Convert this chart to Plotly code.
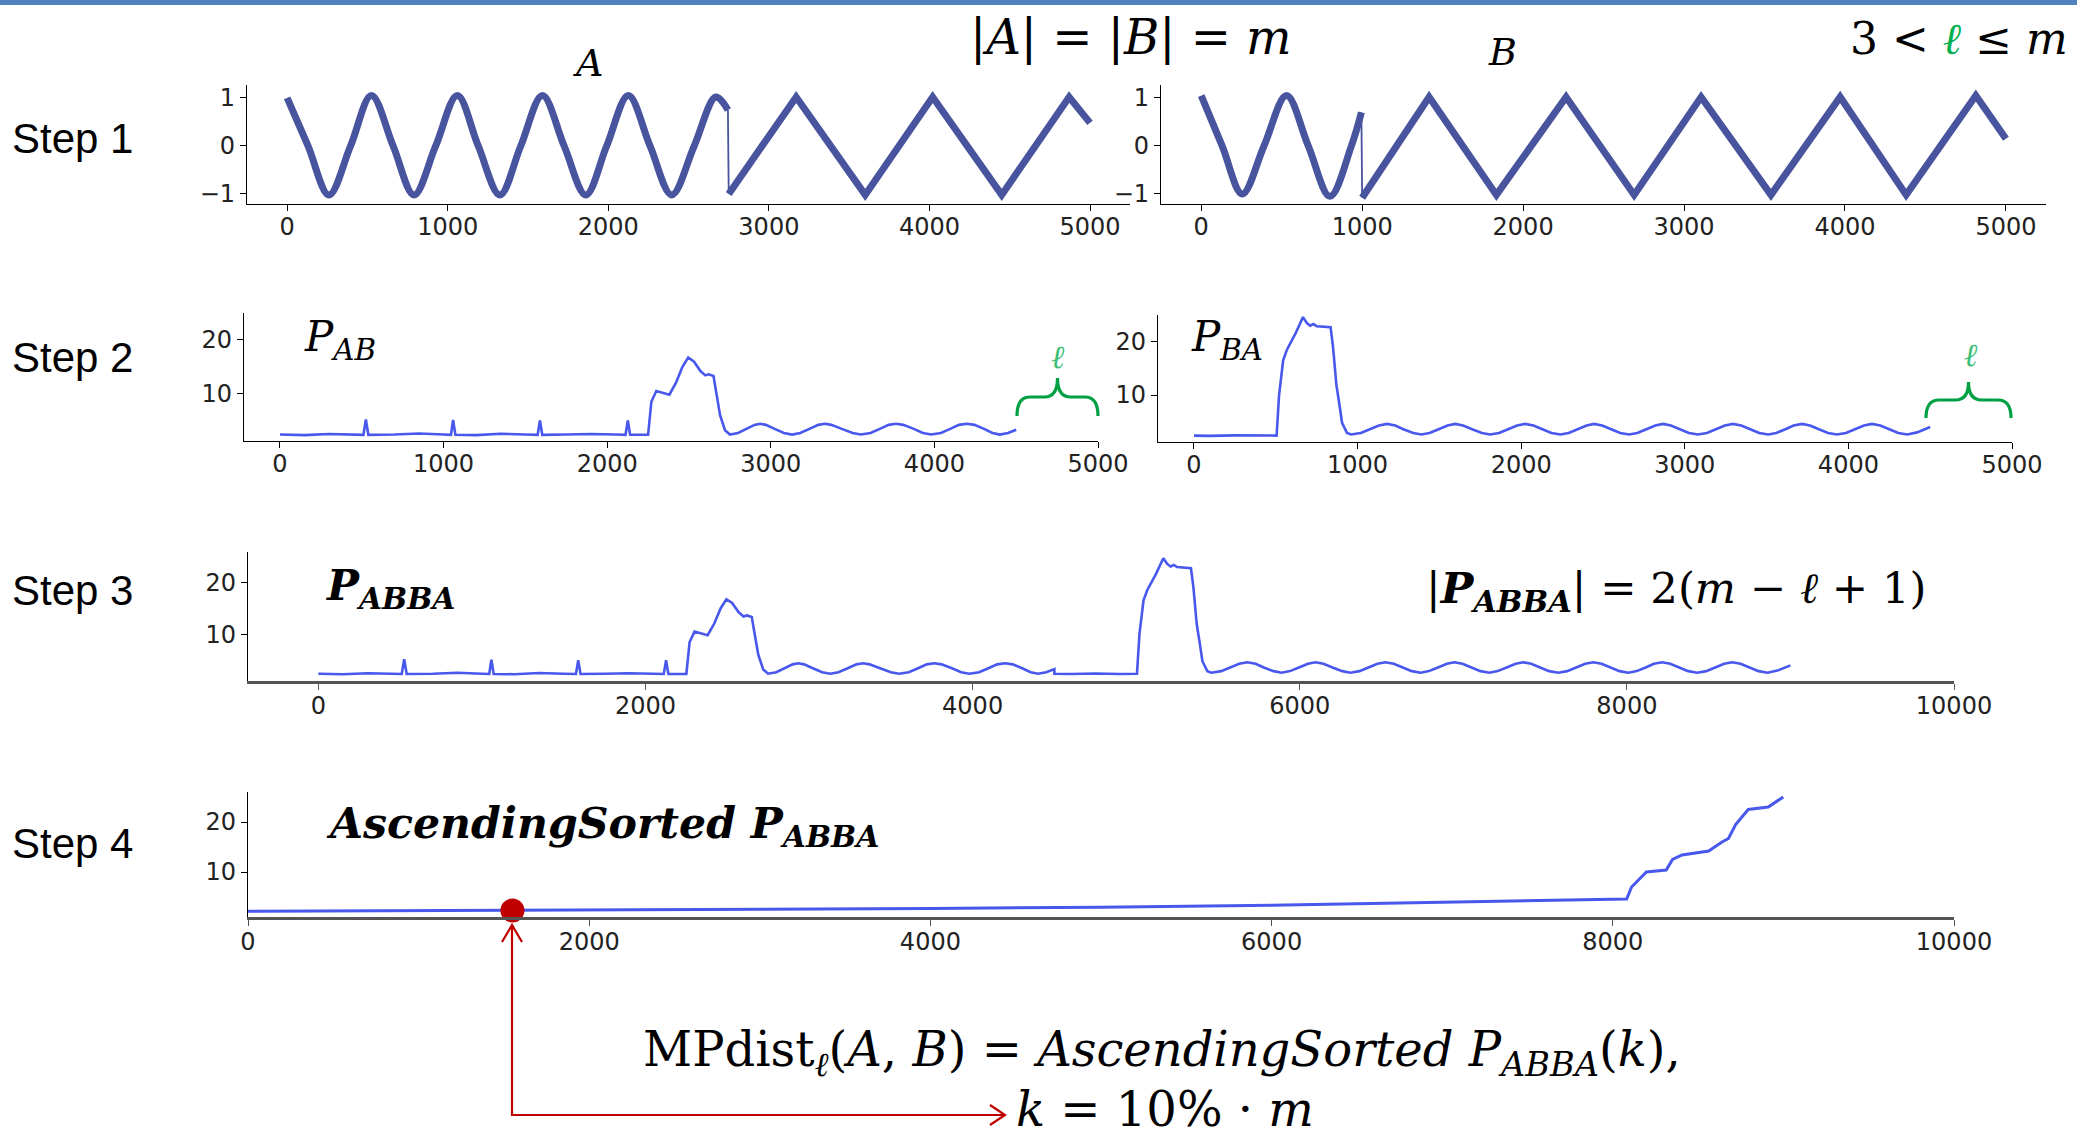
import plotly.graph_objects as go

W, H = 2077, 1139

# ---------------- data ----------------
# Step 1: time series A and B (sine part, then triangle part)
a_wave_x = [0, 130, 260, 395, 525, 660, 790, 925, 1060, 1190, 1325, 1455, 1590, 1725, 1860, 1990, 2125, 2260, 2395, 2535, 2670, 2745]
a_wave_y = [1.0, 0.0, -1.02, 0.0, 1.05, 0.0, -1.02, 0.0, 1.05, 0.0, -1.02, 0.0, 1.05, 0.0, -1.02, 0.0, 1.05, 0.0, -1.02, 0.0, 1.02, 0.75]
a_tri_x = [2750, 3170, 3600, 4020, 4450, 4870, 5000]
a_tri_y = [-1.0, 1.02, -1.02, 1.02, -1.02, 1.02, 0.48]

b_wave_x = [0, 130, 255, 390, 530, 665, 800, 933, 995]
b_wave_y = [1.05, 0.0, -1.0, 0.0, 1.05, 0.0, -1.05, 0.0, 0.7]
b_tri_x = [1000, 1416, 1834, 2267, 2690, 3106, 3540, 3970, 4380, 4813, 5000]
b_tri_y = [-1.08, 1.02, -1.02, 1.02, -1.02, 1.02, -1.02, 1.02, -1.02, 1.05, 0.15]

# Step 2: matrix profiles P_AB and P_BA
pab_x = [0, 150, 300, 450, 510, 525, 540, 700, 850, 1000, 1045, 1058, 1072, 1200, 1350, 1500, 1575, 1589, 1603,
         1750, 1900, 2050, 2112, 2126, 2140, 2250, 2270, 2300, 2340, 2380, 2420, 2460, 2495, 2530, 2570, 2600,
         2620, 2650, 2665, 2690, 2720, 2750, 2800, 2850, 2900, 2934, 2970, 3020, 3080, 3130, 3180, 3240, 3290,
         3331, 3370, 3430, 3500, 3550, 3610, 3670, 3720, 3765, 3810, 3870, 3930, 3980, 4040, 4100, 4150, 4199,
         4245, 4300, 4355, 4400, 4450, 4500]
pab_y = [2.4, 2.3, 2.5, 2.35, 2.35, 5.2, 2.35, 2.4, 2.6, 2.4, 2.35, 5.1, 2.35, 2.3, 2.55, 2.4, 2.35, 5.0, 2.35,
         2.4, 2.5, 2.4, 2.35, 5.0, 2.35, 2.35, 8.5, 10.5, 10.2, 9.8, 12.0, 15.0, 16.7, 16.0, 14.2, 13.4,
         13.6, 13.3, 10.5, 6.0, 3.2, 2.4, 2.7, 3.5, 4.2, 4.4, 4.2, 3.5, 2.7, 2.4, 2.7, 3.5, 4.2,
         4.4, 4.2, 3.5, 2.7, 2.4, 2.7, 3.5, 4.2, 4.4, 4.2, 3.5, 2.7, 2.4, 2.7, 3.5, 4.2, 4.4,
         4.2, 3.5, 2.7, 2.4, 2.7, 3.3]

pba_x = [0, 100, 250, 400, 505, 520, 545, 568, 620, 666, 690, 710, 730, 750, 800, 835, 850, 870, 890, 905, 935,
         960, 1020, 1080, 1130, 1180, 1230, 1280, 1340, 1390, 1440, 1495, 1550, 1596, 1645, 1700, 1760, 1810,
         1865, 1920, 1975, 2024, 2075, 2130, 2185, 2240, 2290, 2345, 2400, 2445, 2495, 2550, 2605, 2660,
         2710, 2765, 2820, 2867, 2915, 2970, 3025, 3080, 3135, 3190, 3245, 3295, 3345, 3400, 3455, 3510,
         3560, 3615, 3665, 3716, 3765, 3820, 3875, 3930, 3985, 4040, 4095, 4144, 4195, 4250, 4305, 4360,
         4420, 4500]
pba_y = [2.4, 2.35, 2.45, 2.35, 2.4, 10.0, 16.5, 18.5, 21.5, 24.6, 23.5, 23.0, 23.3, 22.9, 22.8, 22.7, 19.0, 12.0, 8.0, 4.8, 2.9,
         2.6, 2.9, 3.6, 4.3, 4.6, 4.3, 3.6, 2.9, 2.6, 2.9, 3.6, 4.3, 4.6, 4.3, 3.6, 2.9, 2.6,
         2.9, 3.6, 4.3, 4.6, 4.3, 3.6, 2.9, 2.6, 2.9, 3.6, 4.3, 4.6, 4.3, 3.6, 2.9, 2.6,
         2.9, 3.6, 4.3, 4.6, 4.3, 3.6, 2.9, 2.6, 2.9, 3.6, 4.3, 4.6, 4.3, 3.6, 2.9, 2.6,
         2.9, 3.6, 4.3, 4.6, 4.3, 3.6, 2.9, 2.6, 2.9, 3.6, 4.3, 4.6, 4.3, 3.6, 2.9, 2.6,
         3.0, 4.0]

# Step 3: P_ABBA = P_AB followed by P_BA
ab_len = 4500
pabba_x = pab_x + [x + ab_len for x in pba_x]
pabba_y = pab_y + pba_y

# Step 4: ascending sorted P_ABBA
sorted_x = [0, 1000, 2000, 3000, 4000, 5000, 6000, 7000, 7500, 8000, 8081, 8110, 8197, 8313, 8350, 8406,
            8562, 8640, 8678, 8720, 8794, 8911, 8999]
sorted_y = [2.15, 2.25, 2.35, 2.5, 2.7, 2.95, 3.35, 3.95, 4.25, 4.45, 4.6, 7.0, 10.0, 10.4, 12.5, 13.4,
            14.2, 16.0, 16.7, 19.5, 22.5, 23.0, 25.0]
k_index = 1550
k_value = 2.3

ticks_5k = [0, 1000, 2000, 3000, 4000, 5000]
ticks_10k = [0, 2000, 4000, 6000, 8000, 10000]
ticks_10k_text = ["0", "2000", "4000", "6000", "8000", "10000"]
ticks_pm1 = [-1, 0, 1]
ticks_pm1_text = ["\u22121", "0", "1"]
ticks_mp = [10, 20]

# ---------------- styling ----------------
SERIF = "DejaVu Serif"
SANS = "Liberation Sans, Arial"
TICKFONT = dict(family="DejaVu Sans", size=24, color="#222222")
C1 = "#48549E"
C2 = "rgb(72,88,236)"
RED = "#C00000"
GREEN = "#00A043"


def dom_x(a, b):
    return [a / W, b / W]


def dom_y(top, bottom):
    return [1 - bottom / H, 1 - top / H]


def px(x, y):
    return x / W, 1 - y / H


fig = go.Figure()

# Step 1
fig.add_trace(go.Scatter(x=a_wave_x, y=a_wave_y, mode="lines", line=dict(color=C1, width=7, shape="spline"),
                         xaxis="x", yaxis="y"))
fig.add_trace(go.Scatter(x=[a_wave_x[-1], a_tri_x[0]], y=[a_wave_y[-1], a_tri_y[0]], mode="lines",
                         line=dict(color=C1, width=1.8), xaxis="x", yaxis="y"))
fig.add_trace(go.Scatter(x=a_tri_x, y=a_tri_y, mode="lines", line=dict(color=C1, width=7),
                         xaxis="x", yaxis="y"))
fig.add_trace(go.Scatter(x=b_wave_x, y=b_wave_y, mode="lines", line=dict(color=C1, width=7, shape="spline"),
                         xaxis="x2", yaxis="y2"))
fig.add_trace(go.Scatter(x=[b_wave_x[-1], b_tri_x[0]], y=[b_wave_y[-1], b_tri_y[0]], mode="lines",
                         line=dict(color=C1, width=1.8), xaxis="x2", yaxis="y2"))
fig.add_trace(go.Scatter(x=b_tri_x, y=b_tri_y, mode="lines", line=dict(color=C1, width=7),
                         xaxis="x2", yaxis="y2"))
# Step 2
fig.add_trace(go.Scatter(x=pab_x, y=pab_y, mode="lines", line=dict(color=C2, width=2.6), xaxis="x3", yaxis="y3"))
fig.add_trace(go.Scatter(x=pba_x, y=pba_y, mode="lines", line=dict(color=C2, width=2.6), xaxis="x4", yaxis="y4"))
# Step 3
fig.add_trace(go.Scatter(x=pabba_x, y=pabba_y, mode="lines", line=dict(color=C2, width=2.6), xaxis="x5", yaxis="y5"))
# Step 4
fig.add_trace(go.Scatter(x=sorted_x, y=sorted_y, mode="lines", line=dict(color=C2, width=3), xaxis="x6", yaxis="y6"))
fig.add_trace(go.Scatter(x=[k_index], y=[k_value], mode="markers", marker=dict(color=RED, size=24),
                         cliponaxis=False, xaxis="x6", yaxis="y6"))


def xax(domain, rng, tickvals, anchor, linecolor="black", lw=1.3, ticktext=None):
    d = dict(domain=domain, range=rng, tickvals=tickvals, anchor=anchor, showline=True, linecolor=linecolor,
             linewidth=lw, ticks="outside", ticklen=6, tickwidth=1.2, tickcolor=linecolor, showgrid=False,
             zeroline=False, tickfont=TICKFONT, fixedrange=True, automargin=False, ticklabelstandoff=-5)
    if ticktext is not None:
        d["ticktext"] = ticktext
    return d


def yax(domain, rng, tickvals, anchor, ticktext=None):
    d = dict(domain=domain, range=rng, tickvals=tickvals, anchor=anchor, showline=True, linecolor="black",
             linewidth=1.3, ticks="outside", ticklen=6, tickwidth=1.2, tickcolor="black", showgrid=False,
             zeroline=False, tickfont=TICKFONT, fixedrange=True, automargin=False)
    if ticktext is not None:
        d["ticktext"] = ticktext
    return d


layout = dict(
    width=W, height=H, autosize=False, showlegend=False,
    margin=dict(l=0, r=0, t=0, b=0, pad=0, autoexpand=False),
    paper_bgcolor="white", plot_bgcolor="white",
    xaxis=xax(dom_x(247, 1130), [-250, 5249], ticks_5k, "y"),
    yaxis=yax(dom_y(85, 204), [-1.21, 1.27], ticks_pm1, "x", ticks_pm1_text),
    xaxis2=xax(dom_x(1161, 2046), [-250, 5249], ticks_5k, "y2"),
    yaxis2=yax(dom_y(85, 204), [-1.21, 1.27], ticks_pm1, "x2", ticks_pm1_text),
    xaxis3=xax(dom_x(244, 1098), [-220, 5000], ticks_5k, "y3"),
    yaxis3=yax(dom_y(313, 441), [1.2, 25.0], ticks_mp, "x3"),
    xaxis4=xax(dom_x(1158, 2012), [-220, 5000], ticks_5k, "y4"),
    yaxis4=yax(dom_y(315, 442), [1.2, 25.0], ticks_mp, "x4"),
    xaxis5=xax(dom_x(248, 1954), [-430, 10000], ticks_10k, "y5", "#555555", 2.6, ticks_10k_text),
    yaxis5=yax(dom_y(552, 681), [1.0, 25.8], ticks_mp, "x5"),
    xaxis6=xax(dom_x(248, 1954), [0, 10000], ticks_10k, "y6", "#555555", 2.6, ticks_10k_text),
    yaxis6=yax(dom_y(792, 917), [1.0, 26.0], ticks_mp, "x6"),
)
fig.update_layout(**layout)


def ann(text, x, y, size, xanchor="left", yanchor="middle", color="black", family=SERIF):
    xp, yp = px(x, y)
    return dict(text=text, x=xp, y=yp, xref="paper", yref="paper", showarrow=False, xanchor=xanchor,
                yanchor=yanchor, font=dict(size=size, color=color, family=family))


ell = "<i>\u2113</i>"
anns = [
    ann("|<i>A</i>| = |<i>B</i>| = <i>m</i>", 1131, 37, 48, xanchor="center"),
    ann("3 &lt; <span style='color:#00B050'>" + ell + "</span> \u2264 <i>m</i>", 2070, 38, 44, xanchor="right"),
    ann("<i>A</i>", 588, 63, 38, xanchor="center"),
    ann("<i>B</i>", 1502, 52, 38, xanchor="center"),
    ann("<i>P</i><sub><i>AB</i></sub>", 302, 340, 42),
    ann("<i>P</i><sub><i>BA</i></sub>", 1189, 340, 42),
    ann(ell, 1058, 357, 32, xanchor="center", color="#3DBE76"),
    ann(ell, 1971, 355, 32, xanchor="center", color="#3DBE76"),
    ann("<b><i>P</i></b><sub><b><i>ABBA</i></b></sub>", 324, 588, 42.5),
    ann("|<b><i>P</i></b><sub><b><i>ABBA</i></b></sub>| = 2(<i>m</i> \u2212 " + ell + " + 1)", 1424, 590, 43.4),
    ann("<b><i>AscendingSorted P</i></b><sub><b><i>ABBA</i></b></sub>", 324, 826, 42.6),
    ann("MPdist<sub>" + ell + "</sub>(<i>A</i>, <i>B</i>) = <i>AscendingSorted P</i><sub><i>ABBA</i></sub>(<i>k</i>),",
        641, 1052, 48),
    ann("<i>k</i> = 10% \u00b7 <i>m</i>", 1014, 1139, 48, yanchor="bottom"),
]
for label, yc in [("Step 1", 138), ("Step 2", 358), ("Step 3", 590), ("Step 4", 843)]:
    anns.append(ann(label, 10, yc, 42, family=SANS))
fig.update_layout(annotations=anns)


def brace_path(x0, x1, yend, yarm, ytip, r=13):
    mid = (x0 + x1) / 2
    pts = [
        ("M", [(x0, yend)]),
        ("Q", [(x0, yarm), (x0 + r, yarm)]),
        ("L", [(mid - r, yarm)]),
        ("Q", [(mid, yarm), (mid, ytip)]),
        ("Q", [(mid, yarm), (mid + r, yarm)]),
        ("L", [(x1 - r, yarm)]),
        ("Q", [(x1, yarm), (x1, yend)]),
    ]
    s = ""
    for cmd, ps in pts:
        s += cmd + " " + " ".join("%.6f,%.6f" % px(a, b) for a, b in ps) + " "
    return s.strip()


def poly_path(points):
    return "M " + " L ".join("%.6f,%.6f" % px(a, b) for a, b in points)


shapes = [
    dict(type="rect", xref="paper", yref="paper", x0=0, x1=1, y0=1 - 5 / H, y1=1,
         fillcolor="#4F81BD", line=dict(width=0)),
    dict(type="path", xref="paper", yref="paper", path=brace_path(1017, 1098, 416, 397, 378),
         line=dict(color=GREEN, width=3.2)),
    dict(type="path", xref="paper", yref="paper", path=brace_path(1926, 2011, 418, 400, 382),
         line=dict(color=GREEN, width=3.2)),
    dict(type="path", xref="paper", yref="paper", path=poly_path([(512, 925), (512, 1115), (1004, 1115)]),
         line=dict(color=RED, width=2.2)),
    dict(type="path", xref="paper", yref="paper", path=poly_path([(502, 942), (512, 925), (522, 942)]),
         line=dict(color=RED, width=2.2)),
    dict(type="path", xref="paper", yref="paper", path=poly_path([(990, 1105), (1005, 1115), (990, 1125)]),
         line=dict(color=RED, width=2.2)),
]
fig.update_layout(shapes=shapes)

fig.write_html("out.html")
